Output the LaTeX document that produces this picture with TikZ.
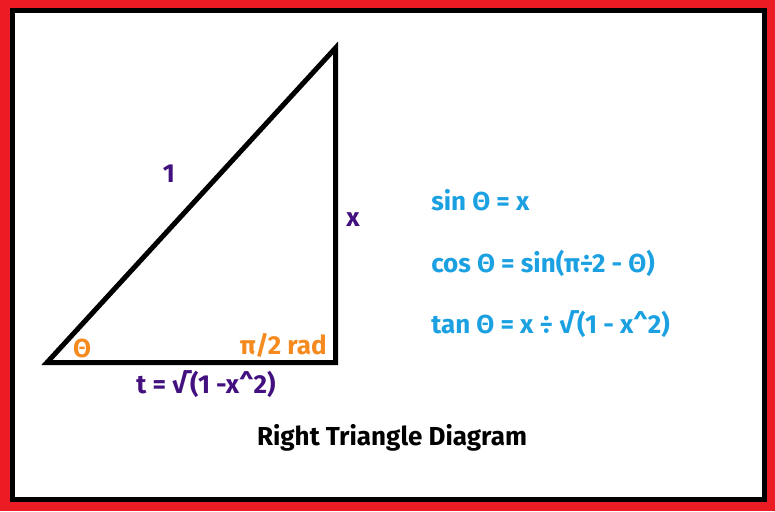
\documentclass[tikz,border=0pt]{standalone}
\usepackage{fontspec}
\setmainfont{Fira Sans}
\definecolor{bordred}{HTML}{EC1C24}
\definecolor{labpurple}{HTML}{43107F}
\definecolor{laborange}{HTML}{F58A1F}
\definecolor{labblue}{HTML}{1BA1E2}
\tikzset{
  lab/.style={font=\bfseries\fontsize{19.5}{23}\selectfont, inner sep=0pt},
  side/.style={lab, text=labpurple},
  ang/.style={lab, text=laborange},
  eqn/.style={lab, text=labblue, anchor=west},
  edge/.style={line width=3.75pt, line join=miter, black}
}
\begin{document}
\begin{tikzpicture}[x=0.75pt,y=-0.75pt]
\useasboundingbox (0,0) rectangle (775,511);
\fill[bordred] (0,0) rectangle (775,511);
\fill[black] (10,8) rectangle (767,502);
\fill[white] (15,13) rectangle (762,497);
\coordinate (A) at (47,362.5);
\coordinate (B) at (335.5,362.5);
\coordinate (C) at (335.5,48);
\draw[edge] (A) -- (B) -- (C) -- cycle;
\node[side] (one) at (169,174) {1};
\node[side] (xs) at (353,220) {x};
\node[side] (t) at (206,384) {t = √(1 -x\^{}2)};
\node[ang] (th) at (82,348) {Θ};
\node[ang, anchor=east] (rad) at (327,345) {π/2 rad};
\node[eqn] (e1) at (431,200) {sin Θ = x};
\node[eqn] (e2) at (431,263) {cos Θ = sin(π÷2 - Θ)};
\node[eqn] (e3) at (431,324) {tan Θ = x ÷ √(1 - x\^{}2)};
\node[lab, text=black] (title) at (392,438) {Right Triangle Diagram};
\end{tikzpicture}
\end{document}
